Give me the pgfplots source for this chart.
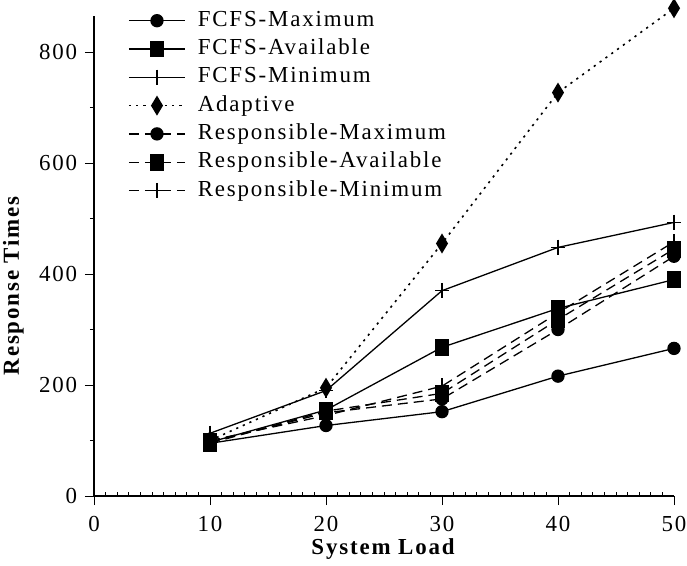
\documentclass[border=0pt]{standalone}
\usepackage{fontspec}
\setmainfont{Liberation Serif}[LetterSpace=8]
\usepackage{pgfplots}
\pgfplotsset{compat=1.18}
\begin{document}
\fontsize{23}{27}\selectfont
\begin{tikzpicture}
\begin{axis}[
  scale only axis, width=580bp, height=480bp,
  xmin=0, xmax=50, ymin=0, ymax=865,
  clip=false,
  axis x line=bottom, axis y line=left,
  axis line style={-, line width=1.2bp},
  xtick={0,10,20,30,40,50}, ytick={0,200,400,600,800},
  xticklabels={0,10,20,30,40,50}, yticklabels={0,200,400,600,800},
  minor x tick num=9, minor y tick num=1,
  tick align=outside, major tick length=9bp, minor tick length=4bp,
  minor x tick style={yshift=4bp},
  tick style={line width=1bp, black},
  ticklabel style={font=\fontsize{23}{27}\selectfont},
  xticklabel style={yshift=-3bp},
  xlabel={\textbf{System Load}}, ylabel={\textbf{Response Times}},
  label style={font=\fontsize{23}{27}\selectfont},
  xlabel style={yshift=8bp},
  ylabel style={at={(ticklabel cs:0.44)}},
  every axis plot/.append style={line width=1.3bp, black},
  legend image code/.code={\draw[mark repeat=2,mark phase=2] plot coordinates {(0bp,0bp) (28bp,0bp) (56bp,0bp)};},
  legend style={draw=none, fill=none, at={(axis description cs:0.0586,1)}, anchor=north west, yshift=6bp,
    font=\fontsize{23}{27}\selectfont, row sep=7.3bp, inner sep=0pt,
    nodes={inner sep=0pt, text height=16bp, text depth=5bp},
    /tikz/every odd column/.append style={column sep=12bp}},
  legend cell align=left,
]
\addplot[mark=*, mark size=6bp] coordinates {(10,95) (20,127) (30,152) (40,216) (50,266)};
\addlegendentry{FCFS-Maximum}
\addplot[mark=square*, mark size=6.5bp, mark options={yscale=1.2}] coordinates {(10,97) (20,155) (30,268) (40,338) (50,390)};
\addlegendentry{FCFS-Available}
\addplot[mark=+, mark size=7bp, mark options={yscale=1.1}] coordinates {(10,113) (20,190) (30,370) (40,448) (50,493)};
\addlegendentry{FCFS-Minimum}
\addplot[line width=1.6bp, dash pattern=on 2.2bp off 5bp, mark=diamond*, mark size=8.5bp, mark options={solid, xscale=0.8}] coordinates {(10,100) (20,195) (30,455) (40,727) (50,879)};
\addlegendentry{Adaptive}
\addplot[dash pattern=on 10bp off 6bp, mark=*, mark size=6bp, mark options={solid}] coordinates {(10,97) (20,150) (30,175) (40,300) (50,432)};
\addlegendentry{Responsible-Maximum}
\addplot[dash pattern=on 10bp off 6bp, mark=square*, mark size=6.5bp, mark options={solid, yscale=1.2}] coordinates {(10,95) (20,153) (30,185) (40,318) (50,445)};
\addlegendentry{Responsible-Available}
\addplot[dash pattern=on 10bp off 6bp, mark=+, mark size=7bp, mark options={solid, yscale=1.1}] coordinates {(10,100) (20,145) (30,198) (40,330) (50,458)};
\addlegendentry{Responsible-Minimum}
\coordinate (O) at (rel axis cs:0,0);
\coordinate (T) at (rel axis cs:1,1);
\end{axis}
\pgfresetboundingbox
\path[use as bounding box] ([xshift=-94bp,yshift=-69bp]O) rectangle ([xshift=13bp,yshift=16bp]T);
\end{tikzpicture}
\end{document}
